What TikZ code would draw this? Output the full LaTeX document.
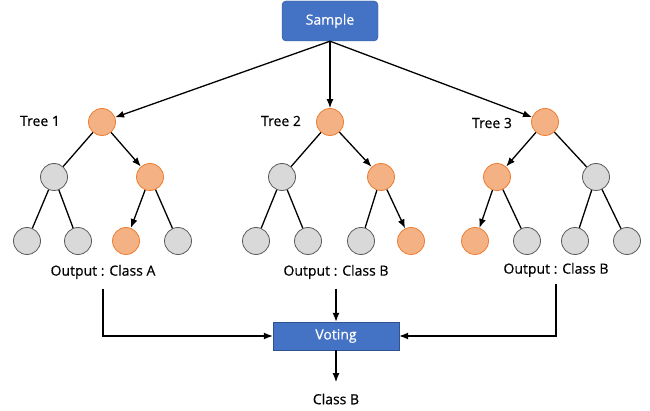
\documentclass[tikz,border=0pt]{standalone}
\usepackage{fontspec}
\setmainfont{Open Sans}[FakeBold=0.5]
\usepackage{xcolor}
\usepackage{tikz}
\usetikzlibrary{positioning,arrows.meta}

\definecolor{boxblue}{HTML}{4472C4}
\definecolor{boxline}{HTML}{2F528F}
\definecolor{nodeorange}{HTML}{F4B183}
\definecolor{lineorange}{HTML}{ED7D31}
\definecolor{nodegray}{HTML}{D9D9D9}
\definecolor{linegray}{HTML}{595959}

\tikzset{
	orangenode/.style={circle,draw=lineorange,fill=nodeorange,minimum size=27pt,inner sep=0pt,line width=0.8pt},
	graynode/.style={circle,draw=linegray,fill=nodegray,minimum size=27pt,inner sep=0pt,line width=0.8pt},
	edge/.style={line width=1.3pt},
	arrowedge/.style={-{Latex[length=9pt,width=7pt]},line width=1.3pt},
	txt/.style={font=\fontsize{14}{16}\selectfont},
}

\begin{document}
\begin{tikzpicture}[x=1pt,y=-1pt]
		\useasboundingbox (0,0) rectangle (650,411);
		\node[rectangle,rounded corners=4pt,draw=boxline,fill=boxblue,text=white,minimum width=96pt,minimum height=40pt,txt] (sample) at (330,21) {Sample};
		% tree 1
		\node[orangenode] (t1) at (102,122) {};
		\node[graynode] (t1l) at (54,177) {};
		\node[orangenode] (t1r) at (150,177) {};
		\node[graynode] (t1a) at (27,241) {};
		\node[graynode] (t1b) at (78,241) {};
		\node[orangenode] (t1c) at (126,241) {};
		\node[graynode] (t1d) at (178,241) {};
		\node[txt] (tree1) at (40,121) {Tree 1};
		% tree 2
		\node[orangenode] (t2) at (330,122) {};
		\node[graynode] (t2l) at (282,177) {};
		\node[orangenode] (t2r) at (381,177) {};
		\node[graynode] (t2a) at (256,241) {};
		\node[graynode] (t2b) at (308,241) {};
		\node[graynode] (t2c) at (361,241) {};
		\node[orangenode] (t2d) at (411,241) {};
		\node[txt] (tree2) at (281,121) {Tree 2};
		% tree 3
		\node[orangenode] (t3) at (545,122) {};
		\node[orangenode] (t3l) at (497,177) {};
		\node[graynode] (t3r) at (596,177) {};
		\node[orangenode] (t3a) at (475,241) {};
		\node[graynode] (t3b) at (527,241) {};
		\node[graynode] (t3c) at (575,241) {};
		\node[graynode] (t3d) at (627,241) {};
		\node[txt] (tree3) at (492,123) {Tree 3};
		% sample to roots
		\draw[arrowedge] (sample.south) -- (t1);
		\draw[arrowedge] (sample.south) -- (t2);
		\draw[arrowedge] (sample.south) -- (t3);
		% branches
		\draw[edge] (t1) -- (t1l);
		\draw[arrowedge] (t1) -- (t1r);
		\draw[edge] (t1l) -- (t1a);
		\draw[edge] (t1l) -- (t1b);
		\draw[arrowedge] (t1r) -- (t1c);
		\draw[edge] (t1r) -- (t1d);
		\draw[edge] (t2) -- (t2l);
		\draw[arrowedge] (t2) -- (t2r);
		\draw[edge] (t2l) -- (t2a);
		\draw[edge] (t2l) -- (t2b);
		\draw[edge] (t2r) -- (t2c);
		\draw[arrowedge] (t2r) -- (t2d);
		\draw[arrowedge] (t3) -- (t3l);
		\draw[edge] (t3) -- (t3r);
		\draw[arrowedge] (t3l) -- (t3a);
		\draw[edge] (t3l) -- (t3b);
		\draw[edge] (t3r) -- (t3c);
		\draw[edge] (t3r) -- (t3d);
		% outputs and voting
		\node[txt] (out1) at (103,272) {Output : Class A};
		\node[txt] (out2) at (336,272) {Output : Class B};
		\node[txt] (out3) at (556,270) {Output : Class B};
		\node[rectangle,draw=boxline,fill=boxblue,text=white,minimum width=126pt,minimum height=28pt,txt] (vote) at (336,336) {Voting};
		\node[txt] (result) at (336,399) {Class B};
		\draw[arrowedge] ([yshift=-6pt]out1.south) |- (vote.west);
		\draw[arrowedge] ([yshift=-6pt]out2.south) -- (vote.north);
		\draw[arrowedge] ([yshift=-3pt]out3.south) |- (vote.east);
		\draw[arrowedge] (vote.south) -- ([yshift=8pt]result.north);
	\end{tikzpicture}
\end{document}
